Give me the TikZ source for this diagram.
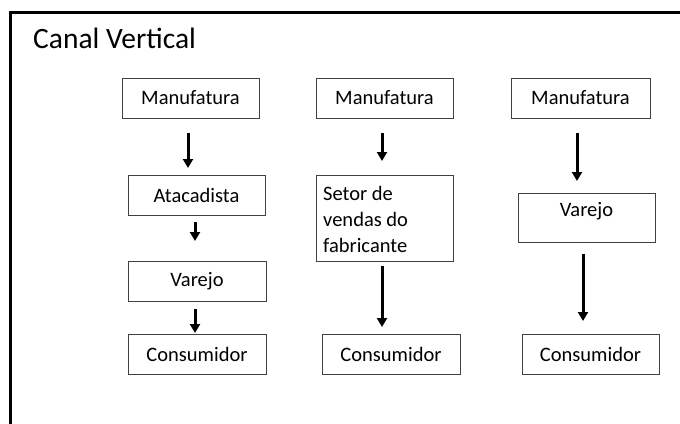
\documentclass[tikz,border=0pt]{standalone}
\usepackage{fontspec}
\setmainfont{Carlito}
\usetikzlibrary{arrows.meta}
\begin{document}
\begin{tikzpicture}[x=1pt,y=-1pt,
  box/.style={draw=black!75,line width=0.9pt,rectangle,inner sep=0pt,font=\fontsize{20.5}{26}\selectfont},
  arr/.style={line width=3pt,-{Triangle[width=10pt,length=9pt]}},
  frame/.style={line width=3pt,black}]
\useasboundingbox (0,0) rectangle (680,423);
\draw[frame] (10,430) -- (10,12) -- (690,12);
\node[anchor=base west,inner sep=0pt,font=\fontsize{29.5}{32}\selectfont] (title) at (33,48) {Canal Vertical};
% column 1
\node[box,minimum width=137pt,minimum height=40pt] (c1m) at (190.5,98) {Manufatura};
\node[box,minimum width=137pt,minimum height=40pt] (c1a) at (196.5,195) {Atacadista};
\node[box,minimum width=138pt,minimum height=40pt] (c1v) at (197,281) {Varejo};
\node[box,minimum width=138pt,minimum height=40pt] (c1c) at (197,354) {Consumidor};
% column 2
\node[box,minimum width=137pt,minimum height=40pt] (c2m) at (384.5,98) {Manufatura};
\node[box,minimum width=137pt,minimum height=86pt] (c2s) at (384.5,218) {};
\node[anchor=north west,inner sep=0pt,align=left,font=\fontsize{20.5}{26}\selectfont] (c2st) at (323,186) {Setor de\\vendas do\\fabricante};
\node[box,minimum width=138pt,minimum height=40pt] (c2c) at (391,354) {Consumidor};
% column 3
\node[box,minimum width=139pt,minimum height=40pt] (c3m) at (580.5,98) {Manufatura};
\node[box,minimum width=137pt,minimum height=49pt] (c3v) at (586.5,217.5) {};
\node[inner sep=0pt,font=\fontsize{20.5}{26}\selectfont] (c3vt) at (586.5,211) {Varejo};
\node[box,minimum width=137pt,minimum height=40pt] (c3c) at (590.5,354) {Consumidor};
% arrows
\coordinate (a1s) at (188,133); \coordinate (a1e) at (188,168);
\coordinate (a2s) at (195,222); \coordinate (a2e) at (195,241);
\coordinate (a3s) at (195,309); \coordinate (a3e) at (195,333);
\coordinate (b1s) at (382,133); \coordinate (b1e) at (382,161);
\coordinate (b2s) at (382,266); \coordinate (b2e) at (382,327);
\coordinate (d1s) at (577,133); \coordinate (d1e) at (577,181);
\coordinate (d2s) at (583,254); \coordinate (d2e) at (583,321);
\foreach \s/\e in {a1s/a1e,a2s/a2e,a3s/a3e,b1s/b1e,b2s/b2e,d1s/d1e,d2s/d2e}
  \draw[arr] (\s) -- (\e);
\end{tikzpicture}
\end{document}
